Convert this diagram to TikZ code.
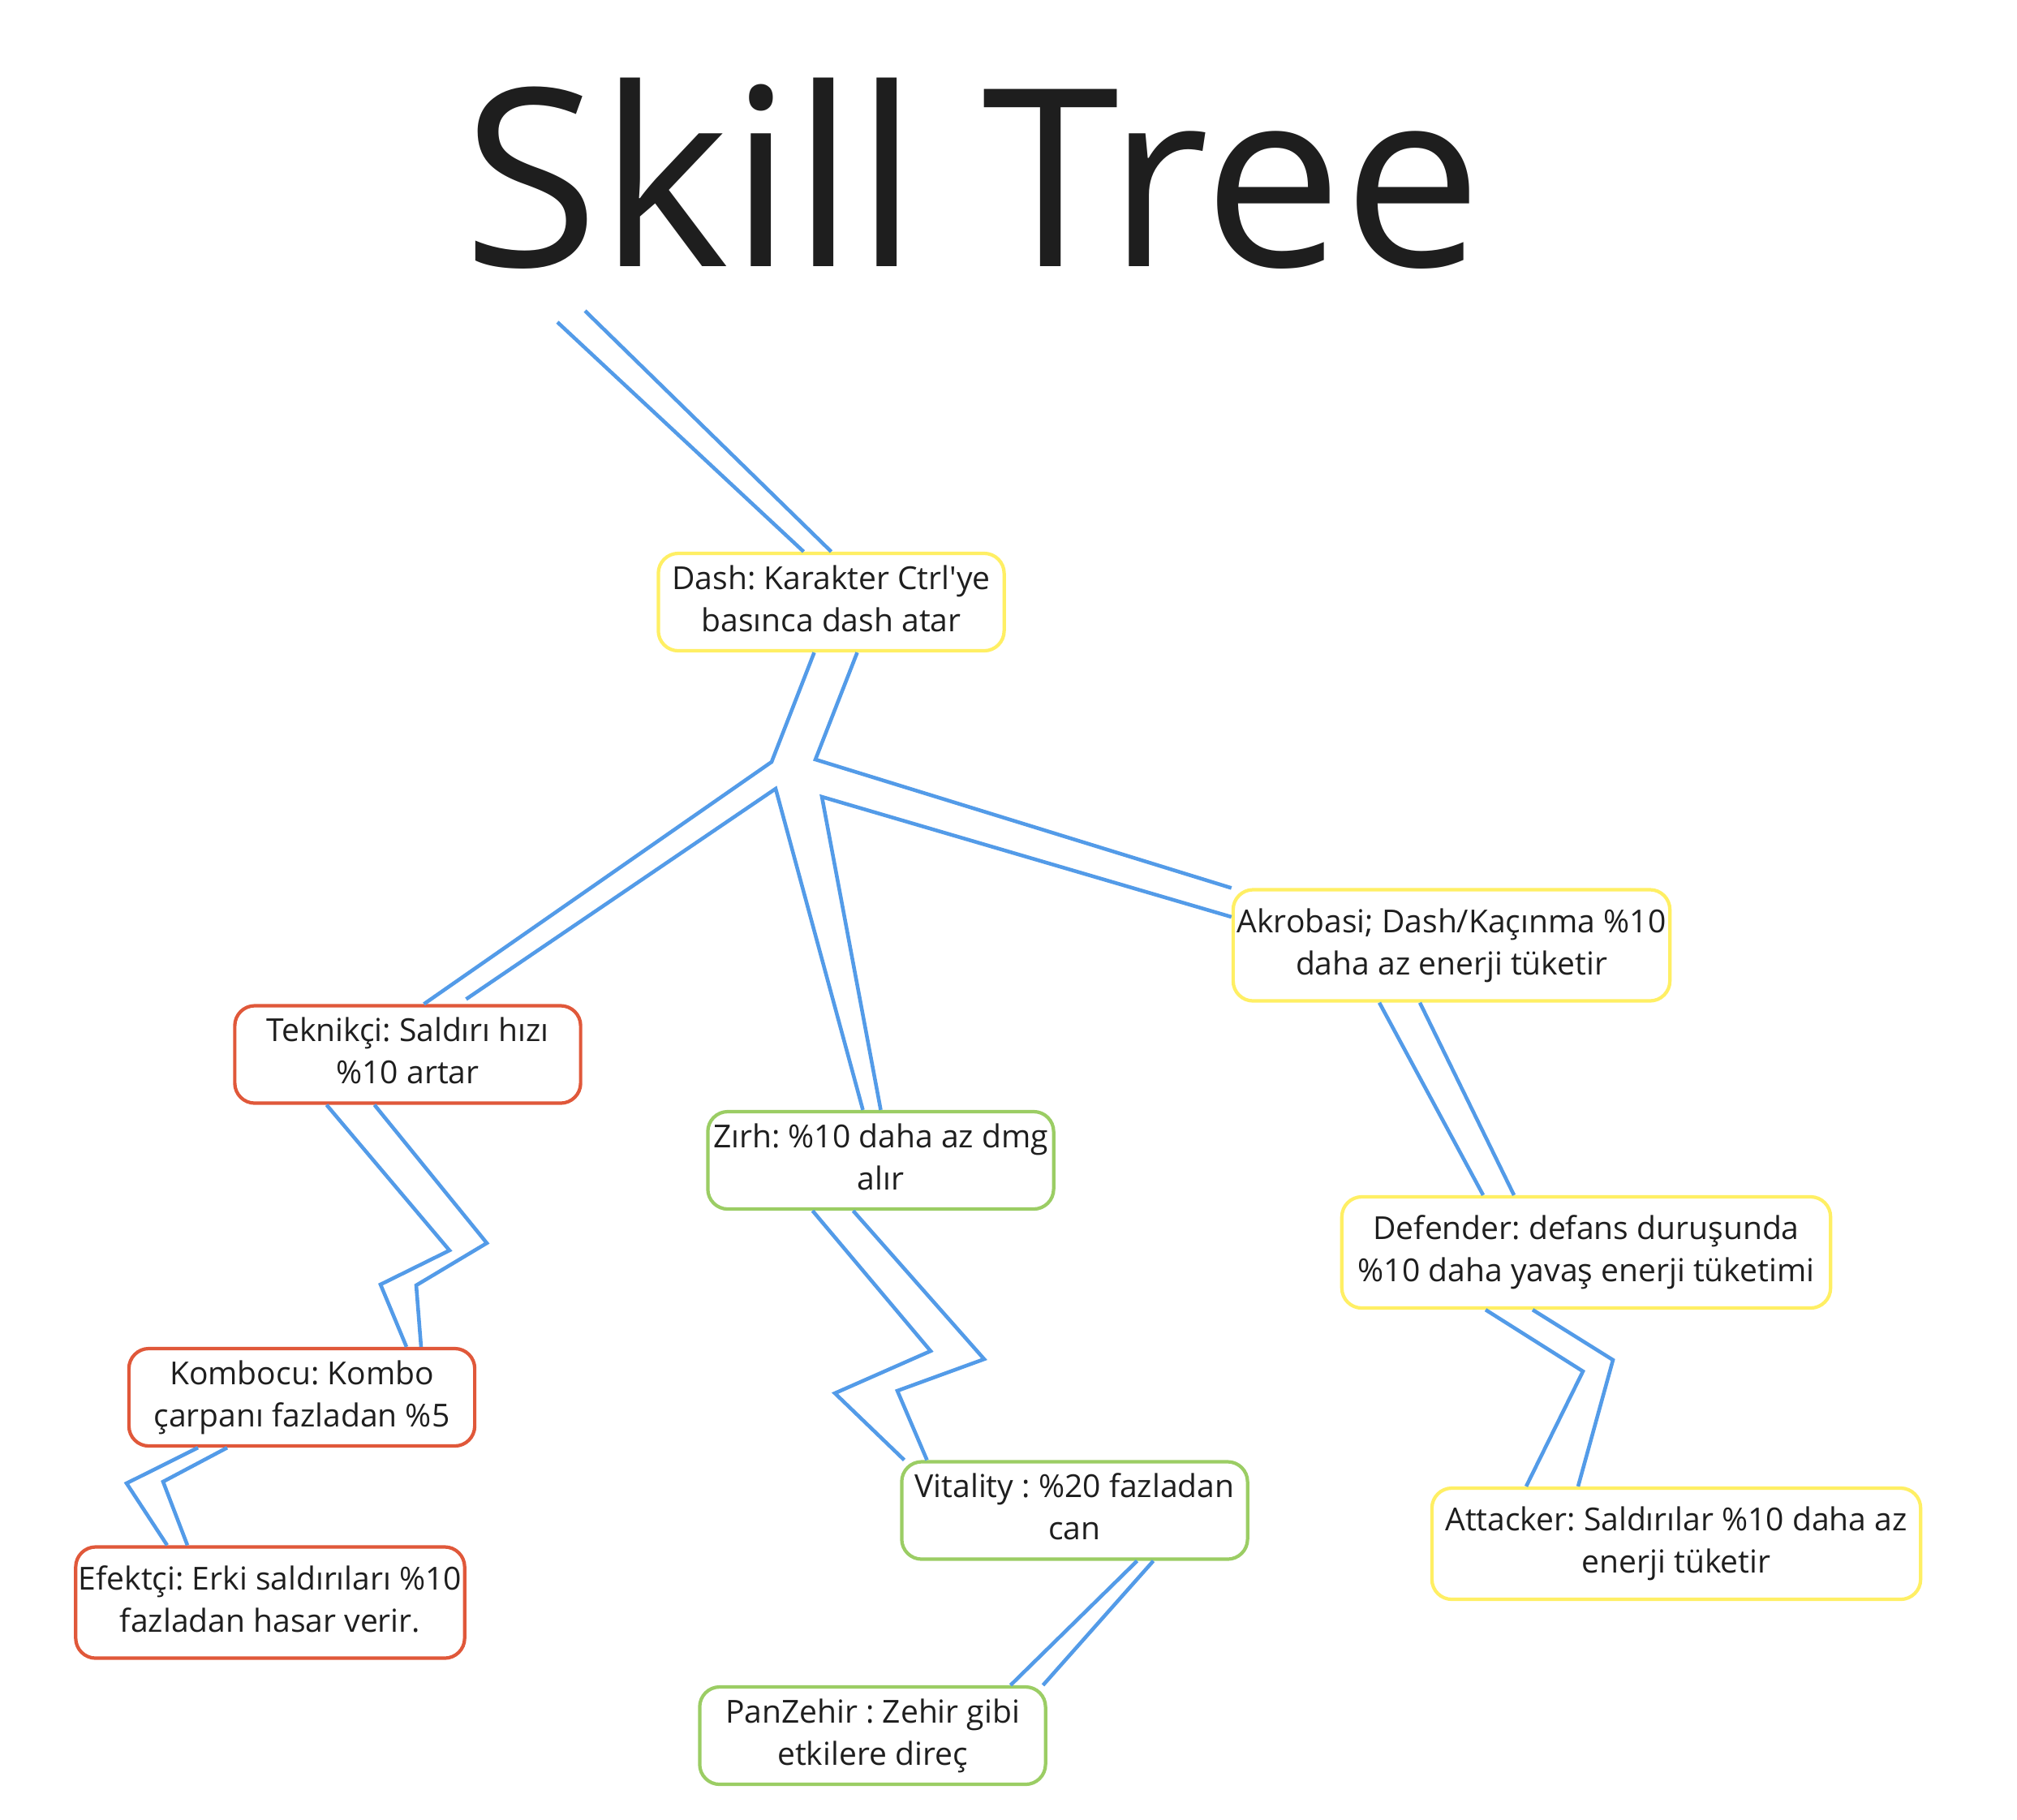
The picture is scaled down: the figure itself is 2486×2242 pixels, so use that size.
\documentclass[tikz,border=0pt]{standalone}
\usepackage{fontspec}
\setmainfont{Open Sans}
\usepackage{xcolor}
\usepackage{tikz}
\usetikzlibrary{calc}
\frenchspacing
\definecolor{skillyellow}{RGB}{255,239,100}
\definecolor{skillred}{RGB}{224,88,58}
\definecolor{skillgreen}{RGB}{155,205,100}
\definecolor{linkblue}{RGB}{83,155,232}
\definecolor{inkdark}{RGB}{30,30,30}
\begin{document}
\begin{tikzpicture}[x=0.01cm, y=-0.01cm,
  st/.style={draw, rectangle, rounded corners=7pt, line width=1.2pt,
    fill=white, inner sep=1pt, align=center, text=inkdark,
    minimum width=4.26cm, minimum height=1.2cm,
    font=\fontsize{11.1}{14.8}\selectfont},
  ybox/.style={st, draw=skillyellow},
  rbox/.style={st, draw=skillred},
  gbox/.style={st, draw=skillgreen},
  tall/.style={minimum height=1.37cm},
  link/.style={draw=linkblue, line width=1.3pt, line join=miter}]
  \useasboundingbox (0,0) rectangle (2486,2242);
  % Title
  \node[anchor=base, font=\fontsize{87}{87}\selectfont, text=inkdark] (title)
    at (1199,328) {Skill Tree};
  % Root skill
  \node[ybox] (dash) at (1024.5,742) {Dash: Karakter Ctrl\textquotesingle ye\\basınca dash atar\vphantom{y}};
  % Red branch
  \node[rbox] (tek) at (502.5,1299.5) {Teknikçi: Saldırı hızı\\\%10 artar\vphantom{y}};
  \node[rbox] (kombo) at (372,1722) {Kombocu: Kombo\\çarpanı fazladan \%5};
  \node[rbox, tall, minimum width=4.78cm] (efek) at (333,1975)
    {Efektçi: Erki saldırıları \%10\\fazladan hasar verir.\vphantom{y}};
  % Green branch
  \node[gbox] (zirh) at (1085.5,1430) {Zırh: \%10 daha az dmg\\alır\vphantom{y}};
  \node[gbox] (vita) at (1324.5,1861.5) {Vitality : \%20 fazladan\\can\vphantom{y}};
  \node[gbox] (pan) at (1075.5,2139) {PanZehir : Zehir gibi\\etkilere direç};
  % Yellow branch
  \node[ybox, tall, minimum width=5.38cm] (akro) at (1789,1165)
    {Akrobasi; Dash/Kaçınma \%10\\daha az enerji tüketir\vphantom{y}};
  \node[ybox, tall, minimum width=6.02cm] (def) at (1955,1543.5)
    {Defender: defans duruşunda\\\%10 daha yavaş enerji tüketimi};
  \node[ybox, tall, minimum width=6.02cm] (att) at (2066,1902.5)
    {Attacker: Saldırılar \%10 daha az\\enerji tüketir\vphantom{y}};
  % Trunk
  \coordinate (top1) at (687,397);
  \coordinate (top2) at (721,383);
  \draw[link] (top1) -- ($(dash.north)+(-34,0)$);
  \draw[link] (top2) -- (dash.north);
  % Fork under Dash
  \draw[link] ($(dash.south)+(-21,0)$) -- (951,939) -- ($(tek.north)+(20,0)$);
  \draw[link] ($(dash.south)+(32,0)$) -- (1005,936) -- (akro.north west);
  \draw[link] ($(tek.north)+(72,-6)$) -- (956,972) -- ($(zirh.north)+(-22,0)$);
  \draw[link] (zirh.north) -- (1013,982) -- ($(akro.west)+(0,-35)$);
  % Akrobasi -> Defender
  \draw[link] ($(akro.south)+(-89,0)$) -- ($(def.north)+(-127,0)$);
  \draw[link] ($(akro.south)+(-39,0)$) -- ($(def.north)+(-89,0)$);
  % Defender -> Attacker
  \draw[link] ($(def.south)+(-124,0)$) -- (1951,1690) -- ($(att.north)+(-185,0)$);
  \draw[link] ($(def.south)+(-66,0)$) -- (1988,1676) -- ($(att.north)+(-121,0)$);
  % Teknikci -> Kombocu
  \draw[link] ($(tek.south)+(-100,0)$) -- (554,1541) -- (469,1583) -- ($(kombo.north)+(129,0)$);
  \draw[link] ($(tek.south)+(-41,0)$) -- (600,1532) -- (513,1584) -- ($(kombo.north)+(147,0)$);
  % Kombocu -> Efektci
  \draw[link] ($(kombo.south)+(-128,0)$) -- (156,1828) -- ($(efek.north)+(-127,0)$);
  \draw[link] ($(kombo.south)+(-92,0)$) -- (201,1826) -- ($(efek.north)+(-102,0)$);
  % Zirh -> Vitality
  \draw[link] ($(zirh.south)+(-84,0)$) -- (1147,1665) -- (1029,1717) -- ($(vita.north)+(-210,0)$);
  \draw[link] ($(zirh.south)+(-34,0)$) -- (1213,1675) -- (1106,1714) -- ($(vita.north)+(-182,0)$);
  % Vitality -> PanZehir
  \draw[link] ($(vita.south)+(77,0)$) -- ($(pan.north)+(170,0)$);
  \draw[link] ($(vita.south)+(97,0)$) -- ($(pan.north)+(210,0)$);
\end{tikzpicture}
\end{document}
